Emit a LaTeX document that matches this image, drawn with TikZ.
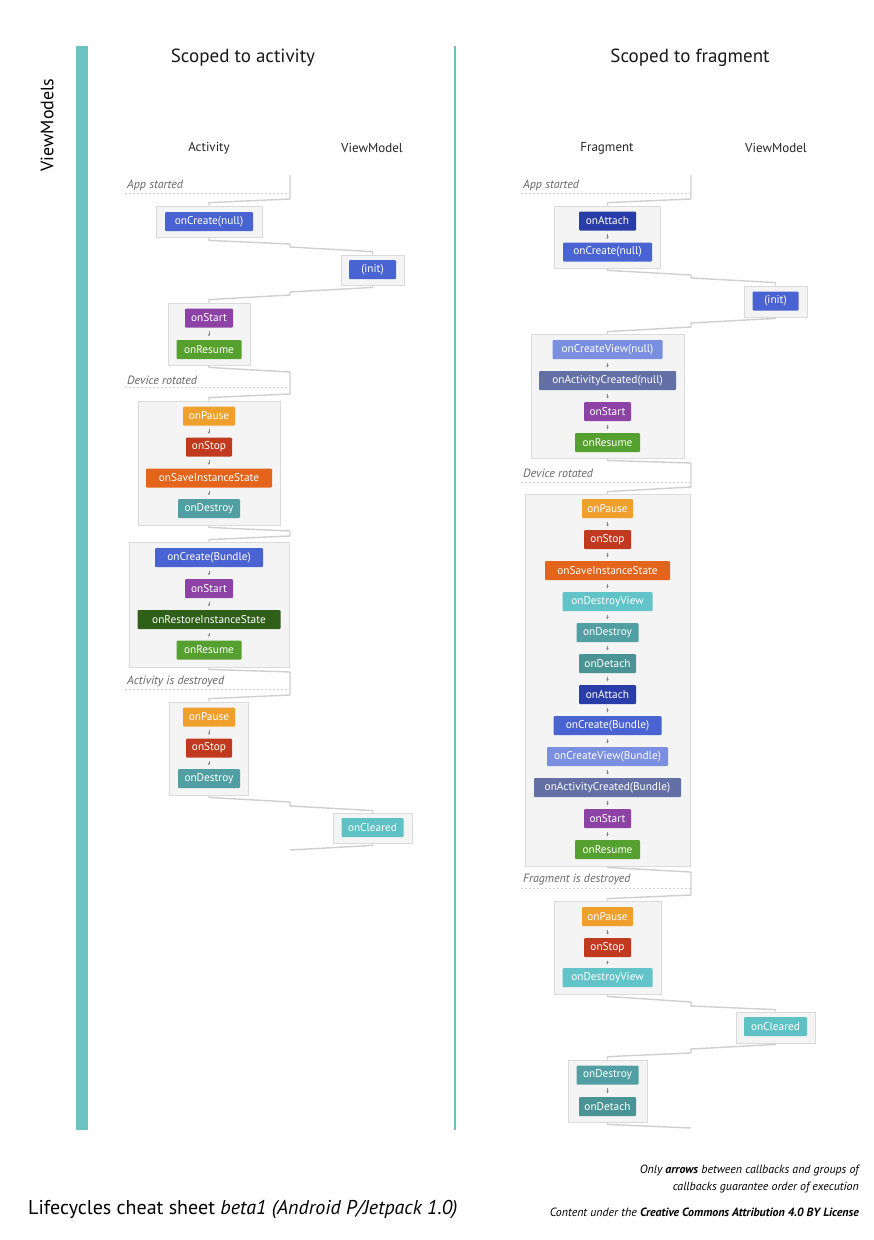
\documentclass[tikz,border=0pt]{standalone}
\usepackage{fontspec}
\setmainfont{PT Sans}
\usetikzlibrary{arrows.meta,calc}
\definecolor{cBlue}{HTML}{4A63D2}
\definecolor{cDarkBlue}{HTML}{2A3CA8}
\definecolor{cLightBlue}{HTML}{7A8FE0}
\definecolor{cSlate}{HTML}{6370A6}
\definecolor{cPurple}{HTML}{8D43A6}
\definecolor{cGreen}{HTML}{55A02F}
\definecolor{cDarkGreen}{HTML}{2F5F19}
\definecolor{cOrange}{HTML}{EFA02C}
\definecolor{cRed}{HTML}{C13A20}
\definecolor{cSave}{HTML}{E5641B}
\definecolor{cDestroy}{HTML}{519FA2}
\definecolor{cDetach}{HTML}{4B9495}
\definecolor{cDestroyView}{HTML}{62C4C9}
\definecolor{cCleared}{HTML}{5EC1C4}
\definecolor{grpfill}{HTML}{F4F4F4}
\definecolor{grpline}{HTML}{DADADA}
\definecolor{connc}{HTML}{CFCFCF}
\definecolor{tealbar}{HTML}{6CC1C1}
\definecolor{evtc}{HTML}{666666}
\definecolor{arrc}{HTML}{8A8A8A}
\begin{document}
\begin{tikzpicture}[x=1pt,y=-1pt,
  cb/.style={rectangle, rounded corners=1pt, text=white, inner sep=0pt,
    minimum height=19pt, minimum width=#1, font=\fontsize{11.3}{13}\selectfont},
  grp/.style={rectangle, draw=grpline, fill=grpfill, line width=0.8pt, inner sep=0pt},
  conn/.style={draw=connc, line width=1.4pt, line join=round},
  minarr/.style={draw=arrc, line width=0.6pt, -{Stealth[length=2.5pt,width=2.6pt]},
    shorten >=3.5pt, shorten <=3.5pt},
  evt/.style={anchor=west, text=evtc, font=\fontsize{12}{14}\selectfont\itshape, inner sep=0pt},
  dashln/.style={draw=connc, line width=0.8pt, dash pattern=on 2pt off 2pt},
  colh/.style={font=\fontsize{13}{15}\selectfont, text=black!85},
  scope title/.style={font=\fontsize{19}{23}\selectfont, text=black!90},
  foot/.style={font=\fontsize{11.9}{13}\selectfont\itshape, anchor=east, inner sep=0pt}
]
\useasboundingbox (0,0) rectangle (874,1240);
\fill[white] (0,0) rectangle (874,1240);

% frame
\fill[tealbar] (76,46) rectangle (88,1130);
\draw[tealbar, line width=1.5pt] (455,46) -- (455,1130);
\node[rotate=90, font=\fontsize{18}{20}\selectfont] (vm) at (47,125) {ViewModels};
\node[scope title] (t1) at (243,58) {Scoped to activity};
\node[scope title] (t2) at (690,58) {Scoped to fragment};
\node[colh] (h1) at (209,148) {Activity};
\node[colh] (h2) at (372,148) {ViewModel};
\node[colh] (h3) at (607,148) {Fragment};
\node[colh] (h4) at (776,148) {ViewModel};

% ================= LEFT =================
\node[grp, minimum width=106, minimum height=31] (G1) at (209,221.5) {};
\node[cb=88, fill=cBlue] (a1) at (209,221.5) {onCreate(null)};

\node[grp, minimum width=63, minimum height=30] (GV1) at (372.5,270) {};
\node[cb=47, fill=cBlue] (v1) at (372.5,269.5) {(init)};

\node[grp, minimum width=82, minimum height=62] (G2) at (209,334) {};
\node[cb=48, fill=cPurple] (a2) at (209,318) {onStart};
\node[cb=65, fill=cGreen] (a3) at (209,349.5) {onResume};

\node[grp, minimum width=142, minimum height=124] (G3) at (209,463) {};
\node[cb=52, fill=cOrange] (a4) at (209,416) {onPause};
\node[cb=46, fill=cRed] (a5) at (209,447) {onStop};
\node[cb=126, fill=cSave] (a6) at (209,478) {onSaveInstanceState};
\node[cb=62, fill=cDestroy] (a7) at (209,508.5) {onDestroy};

\node[grp, minimum width=160, minimum height=125] (G4) at (209,604.5) {};
\node[cb=108, fill=cBlue] (a8) at (209,557.5) {onCreate(Bundle)};
\node[cb=48, fill=cPurple] (a9) at (209,588.5) {onStart};
\node[cb=143, fill=cDarkGreen] (a10) at (209,619.5) {onRestoreInstanceState};
\node[cb=65, fill=cGreen] (a11) at (209,650) {onResume};

\node[grp, minimum width=79, minimum height=93] (G5) at (209,748.5) {};
\node[cb=52, fill=cOrange] (a12) at (209,717) {onPause};
\node[cb=46, fill=cRed] (a13) at (209,748) {onStop};
\node[cb=62, fill=cDestroy] (a14) at (209,778.5) {onDestroy};

\node[grp, minimum width=79, minimum height=30] (GV2) at (372.5,828) {};
\node[cb=62, fill=cCleared] (v2) at (372.5,827.5) {onCleared};

\foreach \p/\q in {a2/a3,a4/a5,a5/a6,a6/a7,a8/a9,a9/a10,a10/a11,a12/a13,a13/a14}
  \draw[minarr] (\p) -- (\q);

% events left
\node[evt] (eL1) at (127,185) {App started};
\node[evt] (eL2) at (127,380) {Device rotated};
\node[evt] (eL3) at (127,681) {Activity is destroyed};
\coordinate (dL1a) at (125,193); \coordinate (dL1b) at (290,193);
\coordinate (dL2a) at (125,387); \coordinate (dL2b) at (290,387);
\coordinate (dL3a) at (125,689); \coordinate (dL3b) at (290,689);
\draw[dashln] (dL1a) -- (dL1b);
\draw[dashln] (dL2a) -- (dL2b);
\draw[dashln] (dL3a) -- (dL3b);

% midline points left
\coordinate (sL) at (290,175);
\coordinate (mL0) at (290,199);
\coordinate (mL1a) at (290,244); \coordinate (mL1b) at (290,247);
\coordinate (mL2a) at (290,292); \coordinate (mL2b) at (290,295);
\coordinate (mL3a) at (290,372); \coordinate (mL3b) at (290,394);
\coordinate (mL4a) at (290,531); \coordinate (mL4b) at (290,536);
\coordinate (mL5a) at (290,672); \coordinate (mL5b) at (290,695);
\coordinate (mL6a) at (290,802); \coordinate (mL6b) at (290,806);
\coordinate (endL) at (290,850);

\draw[conn] (sL) -- (mL0) -- ($(G1.north)+(0,-3)$) -- (G1.north);
\draw[conn] (G1.south) -- ++(0,3) -- (mL1a) -- (mL1b) -- ($(GV1.north)+(0,-3)$) -- (GV1.north);
\draw[conn] (GV1.south) -- ++(0,2) -- (mL2a) -- (mL2b) -- ($(G2.north)+(0,-3)$) -- (G2.north);
\draw[conn] (G2.south) -- ++(0,2) -- (mL3a) -- (mL3b) -- ($(G3.north)+(0,-3)$) -- (G3.north);
\draw[conn] (G3.south) -- ++(0,2) -- (mL4a) -- (mL4b) -- ($(G4.north)+(0,-2)$) -- (G4.north);
\draw[conn] (G4.south) -- ++(0,2) -- (mL5a) -- (mL5b) -- ($(G5.north)+(0,-3)$) -- (G5.north);
\draw[conn] (G5.south) -- ++(0,2) -- (mL6a) -- (mL6b) -- ($(GV2.north)+(0,-2)$) -- (GV2.north);
\draw[conn] (GV2.south) -- ++(0,2) -- (endL);

% ================= RIGHT =================
\node[grp, minimum width=106, minimum height=62] (H1) at (607.5,237) {};
\node[cb=57, fill=cDarkBlue] (b1) at (607.5,221) {onAttach};
\node[cb=89, fill=cBlue] (b2) at (607.5,252) {onCreate(null)};

\node[grp, minimum width=63, minimum height=31] (HV1) at (775.5,301.5) {};
\node[cb=46, fill=cBlue] (w1) at (775.5,301) {(init)};

\node[grp, minimum width=153, minimum height=124] (H2) at (607.5,396) {};
\node[cb=110, fill=cLightBlue] (b3) at (607.5,349.5) {onCreateView(null)};
\node[cb=137, fill=cSlate] (b4) at (607.5,380.5) {onActivityCreated(null)};
\node[cb=47, fill=cPurple] (b5) at (607.5,411.5) {onStart};
\node[cb=65, fill=cGreen] (b6) at (607.5,442.5) {onResume};

\node[grp, minimum width=165, minimum height=372] (H3) at (607.5,680) {};
\node[cb=51, fill=cOrange] (c1) at (607.5,508.5) {onPause};
\node[cb=47, fill=cRed] (c2) at (607.5,539.5) {onStop};
\node[cb=125, fill=cSave] (c3) at (607.5,570.5) {onSaveInstanceState};
\node[cb=90, fill=cDestroyView] (c4) at (607.5,601.5) {onDestroyView};
\node[cb=62, fill=cDestroy] (c5) at (607.5,632.5) {onDestroy};
\node[cb=57, fill=cDetach] (c6) at (607.5,663.5) {onDetach};
\node[cb=57, fill=cDarkBlue] (c7) at (607.5,694.5) {onAttach};
\node[cb=108, fill=cBlue] (c8) at (607.5,725.5) {onCreate(Bundle)};
\node[cb=121, fill=cLightBlue] (c9) at (607.5,756.5) {onCreateView(Bundle)};
\node[cb=147, fill=cSlate] (c10) at (607.5,787.5) {onActivityCreated(Bundle)};
\node[cb=47, fill=cPurple] (c11) at (607.5,818.5) {onStart};
\node[cb=65, fill=cGreen] (c12) at (607.5,849.5) {onResume};

\node[grp, minimum width=107, minimum height=93] (H4) at (607.5,947.5) {};
\node[cb=51, fill=cOrange] (d1) at (607.5,916.5) {onPause};
\node[cb=47, fill=cRed] (d2) at (607.5,947.5) {onStop};
\node[cb=90, fill=cDestroyView] (d3) at (607.5,977.5) {onDestroyView};

\node[grp, minimum width=79, minimum height=31] (HV2) at (775.5,1027.5) {};
\node[cb=63, fill=cCleared] (w2) at (775.5,1026.5) {onCleared};

\node[grp, minimum width=79, minimum height=62] (H5) at (607.5,1091) {};
\node[cb=62, fill=cDestroy] (e1) at (607.5,1075) {onDestroy};
\node[cb=57, fill=cDetach] (e2) at (607.5,1106.5) {onDetach};

\foreach \p/\q in {b1/b2,b3/b4,b4/b5,b5/b6,c1/c2,c2/c3,c3/c4,c4/c5,c5/c6,c6/c7,c7/c8,c8/c9,c9/c10,c10/c11,c11/c12,d1/d2,d2/d3,e1/e2}
  \draw[minarr] (\p) -- (\q);

% events right
\node[evt] (eR1) at (523,185) {App started};
\node[evt] (eR2) at (523,473) {Device rotated};
\node[evt] (eR3) at (523,880) {Fragment is destroyed};
\coordinate (dR1a) at (521,193); \coordinate (dR1b) at (691,193);
\coordinate (dR2a) at (521,482); \coordinate (dR2b) at (691,482);
\coordinate (dR3a) at (521,888); \coordinate (dR3b) at (691,888);
\draw[dashln] (dR1a) -- (dR1b);
\draw[dashln] (dR2a) -- (dR2b);
\draw[dashln] (dR3a) -- (dR3b);

\coordinate (sR) at (691,175);
\coordinate (mR0) at (691,199);
\coordinate (mR1a) at (691,275); \coordinate (mR1b) at (691,278);
\coordinate (mR2a) at (691,323); \coordinate (mR2b) at (691,327);
\coordinate (mR3a) at (691,463); \coordinate (mR3b) at (691,487);
\coordinate (mR4a) at (691,872); \coordinate (mR4b) at (691,895);
\coordinate (mR5a) at (691,1002); \coordinate (mR5b) at (691,1006);
\coordinate (mR6a) at (691,1049); \coordinate (mR6b) at (691,1053);
\coordinate (endR) at (691,1128);

\draw[conn] (sR) -- (mR0) -- ($(H1.north)+(0,-3)$) -- (H1.north);
\draw[conn] (H1.south) -- ++(0,2) -- (mR1a) -- (mR1b) -- ($(HV1.north)+(0,-3)$) -- (HV1.north);
\draw[conn] (HV1.south) -- ++(0,1) -- (mR2a) -- (mR2b) -- ($(H2.north)+(0,-2)$) -- (H2.north);
\draw[conn] (H2.south) -- ++(0,2) -- (mR3a) -- (mR3b) -- ($(H3.north)+(0,-2)$) -- (H3.north);
\draw[conn] (H3.south) -- ++(0,1) -- (mR4a) -- (mR4b) -- ($(H4.north)+(0,-2)$) -- (H4.north);
\draw[conn] (H4.south) -- ++(0,2) -- (mR5a) -- (mR5b) -- ($(HV2.north)+(0,-2)$) -- (HV2.north);
\draw[conn] (HV2.south) -- ++(0,1) -- (mR6a) -- (mR6b) -- ($(H5.north)+(0,-3)$) -- (H5.north);
\draw[conn] (H5.south) -- ++(0,2) -- (endR);

% footer
\node[anchor=west, font=\fontsize{20}{24}\selectfont, inner sep=0pt] (ft) at (28,1210)
  {Lifecycles cheat sheet \textit{beta1 (Android P/Jetpack 1.0)}};
\node[foot] (f1) at (859,1171) {Only \textbf{arrows} between callbacks and groups of};
\node[foot] (f2) at (859,1188) {callbacks guarantee order of execution};
\node[foot] (f3) at (859,1212) {Content under the \textbf{Creative Commons Attribution 4.0 BY License}};
\end{tikzpicture}
\end{document}
